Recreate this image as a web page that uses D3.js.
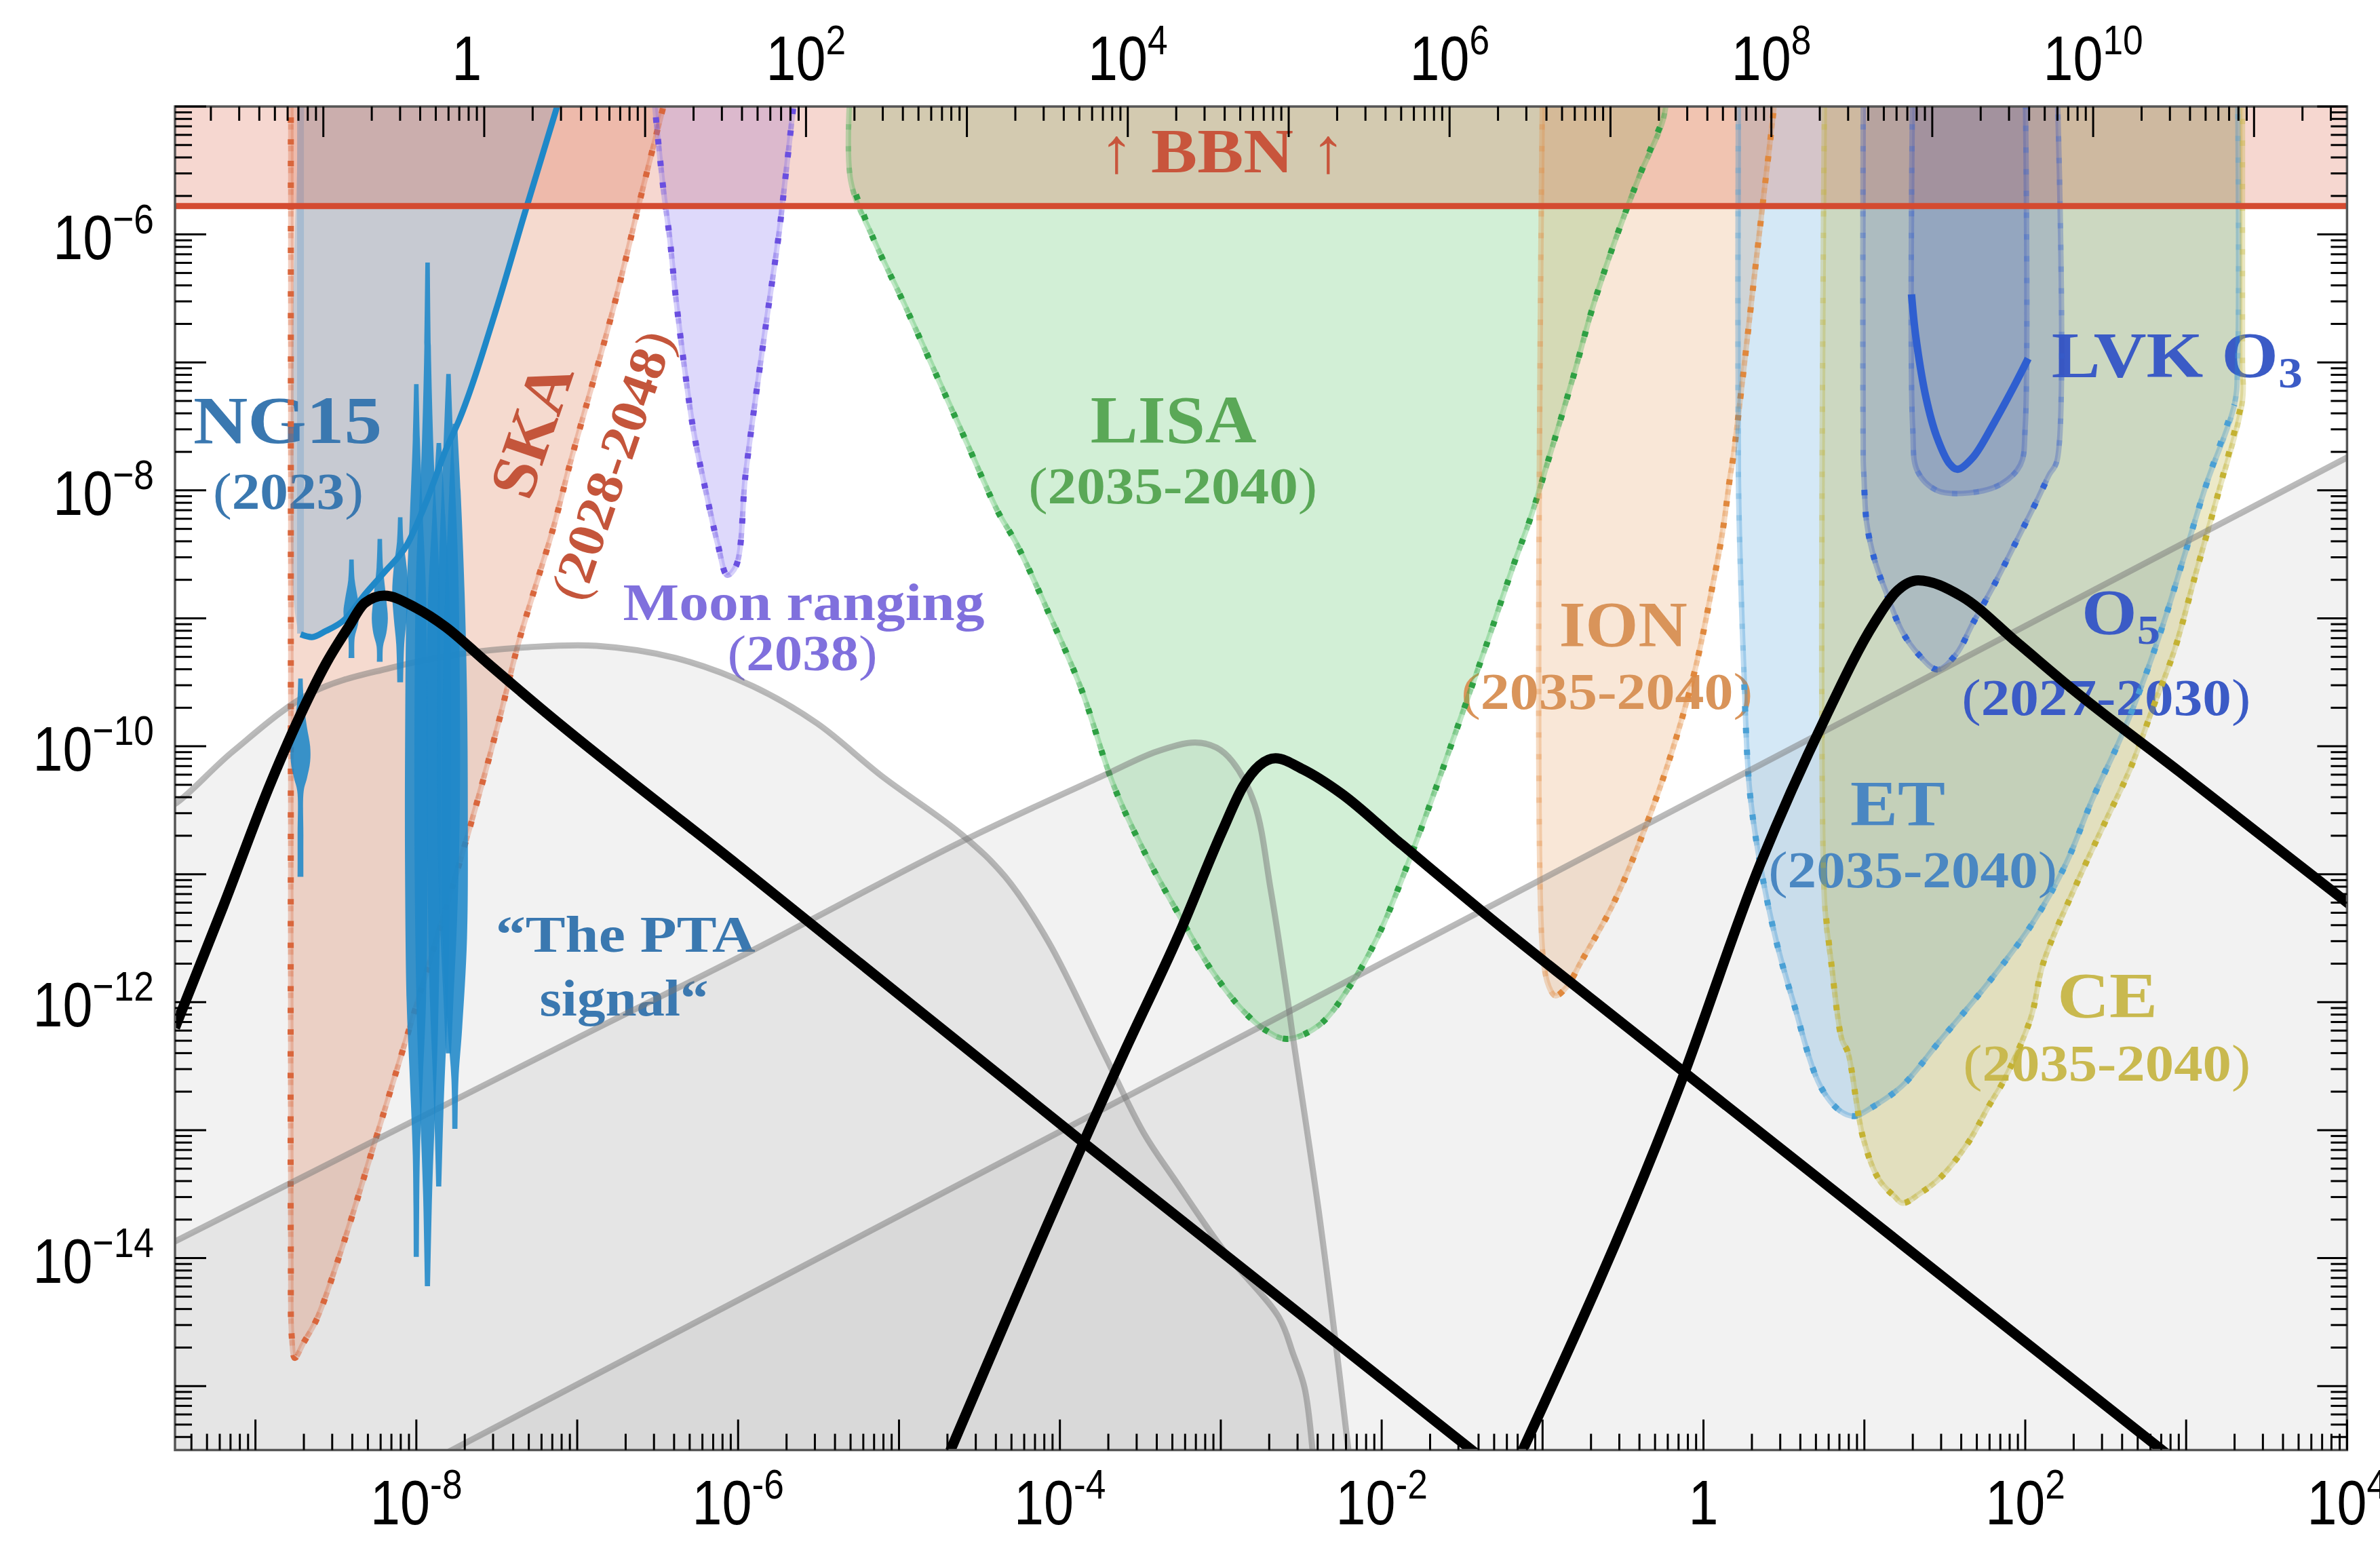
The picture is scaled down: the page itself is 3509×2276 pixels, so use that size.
<!DOCTYPE html>
<html><head><meta charset="utf-8">
<script src="https://cdn.jsdelivr.net/npm/d3@7"></script>
<style>body{margin:0;background:#fff}</style>
</head><body>
<svg id="c" width="3509" height="2276" xmlns="http://www.w3.org/2000/svg"></svg>
<script>
// ---------------- DATA (log10 f [Hz], log10 Omega h^2) ----------------
const xTickExps = [-8, -6, -4, -2, 0, 2, 4];
const topTickExps = [0, 2, 4, 6, 8, 10];
const yTickExps = [-14, -12, -10, -8, -6];
const topAxisShift = 7.578;            // log10(top quantity) - log10(f)
const bbnLevel = -5.778;

// black signal curves
const signal1 = [[-9.5,-12.2],[-9.2,-11.25],[-8.9,-10.27],[-8.7,-9.70],[-8.56,-9.35],[-8.42,-9.065],[-8.32,-8.88],[-8.2,-8.823],[-8.0,-8.92],[-7.82,-9.065],[-7.58,-9.325],[-7.23,-9.70],[-6.0,-10.93],[-3.87,-13.08],[-1.4,-15.54]];
const signal2 = [[-4.72,-15.62],[-3.6,-12.39],[-3.26,-11.47],[-2.99,-10.66],[-2.86,-10.31],[-2.76,-10.15],[-2.66,-10.094],[-2.49,-10.18],[-2.25,-10.37],[-1.92,-10.72],[-1.25,-11.42],[-0.68,-11.99],[2.88,-15.53]];
const signal3 = [[-1.16,-15.6],[-0.15,-12.66],[0.35,-10.93],[0.76,-9.77],[1.06,-9.04],[1.2,-8.79],[1.335,-8.703],[1.6,-8.825],[1.95,-9.19],[2.28,-9.54],[2.96,-10.2],[4.05,-11.27]];

// grey background regions (upper boundaries)
const fgLine = [[-7.9,-15.58],[4.05,-7.71]];
const ptaHump = [[-9.6,-10.5],[-9.5,-10.45],[-9.14,-10.04],[-8.65,-9.58],[-8.17,-9.39],[-7.68,-9.27],[-7.3,-9.225],[-6.88,-9.215],[-6.39,-9.31],[-5.91,-9.53],[-5.51,-9.82],[-5.11,-10.23],[-4.61,-10.69],[-4.34,-11.02],[-4.07,-11.53],[-3.73,-12.39],[-3.48,-13.02],[-3.29,-13.38],[-2.97,-13.96],[-2.64,-14.46],[-2.55,-14.75],[-2.48,-15.01],[-2.43,-15.5],[-2.42,-15.7]];
const bumpLine = [[-9.6,-13.93],[-9.5,-13.87],[-7.0,-12.28],[-5.95,-11.62],[-4.61,-10.744],[-3.733,-10.23],[-3.397,-10.04],[-3.16,-9.97],[-3.027,-10.01],[-2.927,-10.12],[-2.79,-10.45],[-2.69,-11.12],[-2.59,-11.93],[-2.56,-12.2],[-2.384,-13.7],[-2.207,-15.5],[-2.19,-15.7]];

// experiment sensitivity regions (boundary from top-left, down, back to top-right)
const ska = [[-8.78,-4.8],[-8.78,-10],[-8.78,-14.0],[-8.775,-14.6],[-8.755,-14.78],[-8.70,-14.66],[-8.62,-14.48],[-8.48,-13.99],[-8.255,-13.08],[-8.03,-12.15],[-7.68,-10.69],[-7.49,-9.82],[-7.36,-9.17],[-7.15,-8.3],[-7.04,-7.77],[-6.78,-6.6],[-6.59,-5.63],[-6.46,-4.98],[-6.42,-4.8]];
const moon = [[-6.53,-4.8],[-6.519,-4.98],[-6.463,-5.663],[-6.425,-6.03],[-6.388,-6.485],[-6.331,-7.064],[-6.275,-7.55],[-6.2,-8.01],[-6.124,-8.434],[-6.068,-8.663],[-6.012,-8.588],[-5.955,-7.89],[-5.898,-7.34],[-5.823,-6.668],[-5.747,-6.0],[-5.71,-5.60],[-5.653,-4.96],[-5.64,-4.8]];
const lisa = [[-5.30,-4.8],[-5.30,-5.58],[-5.159,-6.034],[-4.965,-6.55],[-4.771,-7.09],[-4.578,-7.63],[-4.384,-8.17],[-4.27,-8.416],[-4.07,-8.958],[-3.867,-9.553],[-3.665,-10.31],[-3.464,-10.853],[-3.262,-11.313],[-3.06,-11.745],[-2.859,-12.07],[-2.72,-12.22],[-2.59,-12.287],[-2.389,-12.18],[-2.187,-11.854],[-2.019,-11.475],[-1.85,-10.96],[-1.682,-10.393],[-1.514,-9.797],[-1.347,-9.2],[-1.179,-8.578],[-1.078,-8.227],[-0.965,-7.767],[-0.804,-7.09],[-0.69,-6.576],[-0.55,-6.05],[-0.40,-5.55],[-0.25,-5.1],[-0.22,-4.8]];
const ion = [[-1.0,-4.8],[-1.0,-11.6],[-0.96,-11.88],[-0.92,-11.95],[-0.85,-11.88],[-0.763,-11.69],[-0.56,-11.23],[-0.357,-10.62],[-0.188,-10.01],[-0.052,-9.40],[0.049,-8.794],[0.117,-8.337],[0.167,-7.88],[0.182,-7.767],[0.247,-7.09],[0.311,-6.385],[0.376,-5.68],[0.44,-4.98],[0.45,-4.8]];
const et = [[0.217,-4.8],[0.217,-7.88],[0.234,-8.794],[0.251,-9.40],[0.285,-10.316],[0.353,-10.926],[0.455,-11.536],[0.557,-11.992],[0.726,-12.655],[0.85,-12.85],[0.94,-12.89],[1.05,-12.82],[1.234,-12.655],[1.471,-12.3],[1.776,-11.84],[2.047,-11.38],[2.25,-10.926],[2.419,-10.41],[2.588,-9.95],[2.724,-9.525],[2.859,-9.04],[2.994,-8.49],[3.129,-7.94],[3.30,-7.33],[3.32,-7.0],[3.32,-4.8]];
const ce = [[0.753,-4.8],[0.753,-11.23],[0.794,-11.69],[0.861,-12.295],[0.897,-12.39],[0.994,-13.07],[1.09,-13.385],[1.189,-13.52],[1.238,-13.57],[1.351,-13.49],[1.481,-13.36],[1.644,-13.1],[1.774,-12.81],[1.872,-12.6],[2.034,-12.125],[2.113,-11.69],[2.317,-11.08],[2.486,-10.62],[2.656,-10.165],[2.791,-9.708],[2.927,-9.25],[3.062,-8.64],[3.198,-8.03],[3.35,-7.3],[3.35,-7.0],[3.35,-4.8]];
const o5 = [[0.993,-4.8],[0.993,-7.77],[0.997,-7.88],[1.014,-8.25],[1.065,-8.55],[1.133,-8.79],[1.234,-9.1],[1.335,-9.28],[1.454,-9.40],[1.571,-9.28],[1.674,-9.04],[1.81,-8.73],[1.944,-8.40],[2.08,-8.06],[2.148,-7.88],[2.197,-7.77],[2.197,-4.8]];
const o3band = [[1.30,-4.8],[1.30,-7.5],[1.33,-7.85],[1.45,-8.0],[1.65,-8.02],[1.85,-7.95],[1.97,-7.8],[2.0,-7.5],[2.0,-4.8]];
const o3curve = [[1.293,-6.468],[1.32,-6.8],[1.384,-7.28],[1.449,-7.577],[1.531,-7.794],[1.58,-7.835],[1.676,-7.74],[1.807,-7.47],[1.937,-7.17],[2.018,-6.97]];
const ng15Region = [[-8.72,-4.8],[-8.72,-9.125],[-8.649,-9.147],[-8.564,-9.10],[-8.452,-9.017],[-8.311,-8.80],[-8.199,-8.64],[-8.058,-8.425],[-7.932,-8.07],[-7.819,-7.69],[-7.735,-7.454],[-7.496,-6.555],[-7.329,-5.845],[-7.12,-4.98],[-7.07,-4.8]];
const ng15Line = [[-8.719,-9.125],[-8.649,-9.147],[-8.564,-9.10],[-8.452,-9.017],[-8.311,-8.80],[-8.199,-8.64],[-8.058,-8.425],[-7.932,-8.07],[-7.819,-7.69],[-7.735,-7.454],[-7.496,-6.555],[-7.329,-5.845],[-7.12,-4.98],[-7.07,-4.78]];
// NG15 violins: centre log f, then [log Omega, half-width in decades]
const violinCentres = [-8.72, -8.403, -8.227, -8.10, -8.0, -7.93, -7.86, -7.80, -7.76];
const violinShapes = [
  [[-9.47,0.014],[-9.65,0.02],[-9.85,0.04],[-10.0,0.06],[-10.12,0.06],[-10.25,0.04],[-10.35,0.02],[-10.7,0.018],[-11.02,0.018]],
  [[-8.54,0.014],[-8.7,0.02],[-8.85,0.04],[-8.95,0.05],[-9.05,0.04],[-9.15,0.02],[-9.31,0.018]],
  [[-8.38,0.014],[-8.6,0.02],[-8.85,0.04],[-9.0,0.05],[-9.12,0.04],[-9.22,0.02],[-9.34,0.018]],
  [[-8.21,0.014],[-8.4,0.02],[-8.6,0.04],[-8.8,0.05],[-9.0,0.04],[-9.2,0.025],[-9.5,0.018]],
  [[-7.17,0.014],[-7.6,0.022],[-8.2,0.04],[-8.8,0.06],[-10,0.07],[-11,0.07],[-12,0.06],[-12.6,0.04],[-13.2,0.022],[-13.99,0.016]],
  [[-6.22,0.014],[-7.0,0.022],[-7.8,0.04],[-8.6,0.07],[-9.5,0.08],[-11,0.08],[-12.2,0.065],[-12.9,0.045],[-13.5,0.028],[-14.22,0.016]],
  [[-7.63,0.014],[-8.2,0.04],[-9,0.07],[-11,0.07],[-12,0.055],[-12.8,0.03],[-13.44,0.016]],
  [[-7.09,0.014],[-7.8,0.035],[-8.6,0.06],[-9.5,0.07],[-10.5,0.07],[-11.3,0.055],[-12,0.03],[-12.4,0.016]],
  [[-7.48,0.014],[-8.0,0.035],[-8.8,0.06],[-9.6,0.075],[-10.5,0.08],[-11.5,0.075],[-12.2,0.045],[-12.6,0.022],[-12.99,0.016]]
];

// ---------------- SCALES ----------------
const PL = 258, PR = 3460.4, PT = 157, PB = 2137.5;
const x = d3.scaleLog().domain([Math.pow(10,-9.5), 1e4]).range([PL, PR]);
const y = d3.scaleLog().domain([Math.pow(10,-15.5), 1e-5]).range([PB, PT]);
const xTop = d3.scaleLog().domain([Math.pow(10,-9.5+topAxisShift), Math.pow(10,4+topAxisShift)]).range([PL, PR]);
const X = v => x(Math.pow(10, v)), Y = v => y(Math.pow(10, v));

const svg = d3.select('#c');
svg.append('rect').attr('width',3509).attr('height',2276).attr('fill','#fff');
svg.append('defs').append('clipPath').attr('id','clip').append('rect')
  .attr('x',PL).attr('y',PT).attr('width',PR-PL).attr('height',PB-PT);
const plot = svg.append('g').attr('clip-path','url(#clip)');

const smooth = d3.line().x(d=>X(d[0])).y(d=>Y(d[1])).curve(d3.curveCatmullRom.alpha(0.5));
const mono = d3.line().x(d=>X(d[0])).y(d=>Y(d[1])).curve(d3.curveMonotoneX);
const straight = d3.line().x(d=>X(d[0])).y(d=>Y(d[1]));

// ---------------- GREY REGIONS ----------------
const greyFill = 'rgba(0,0,0,0.052)';
plot.append('path').attr('d', straight(fgLine.concat([[4.1,-15.7],[-7.9,-15.7]])) + 'Z').attr('fill',greyFill);
plot.append('path').attr('d', smooth(ptaHump) + 'L' + X(-9.6) + ',' + Y(-15.7) + 'Z').attr('fill',greyFill);
plot.append('path').attr('d', smooth(bumpLine) + 'L' + X(-9.6) + ',' + Y(-15.7) + 'Z').attr('fill',greyFill);

// ---------------- EXPERIMENT FILLS ----------------
// strong: index range of the boundary drawn with strong dots (rest faint)
const regions = [
  {pts: ska,  fill:'rgb(215,100,55)',  op:0.24, dot:'#d9663c', strong:[0, ska.length-1]},
  {pts: moon, fill:'rgb(123,104,238)', op:0.25, dot:'#6a4fe0', strong:[0, moon.length-1]},
  {pts: lisa, fill:'rgb(50,180,70)',   op:0.22, dot:'#2ea043', strong:[1, lisa.length-2]},
  {pts: ion,  fill:'rgb(225,135,55)',  op:0.2,  dot:'#e0883d', strong:[2, ion.length-1]},
  {pts: et,   fill:'rgb(40,140,210)',  op:0.2,  dot:'#4aa0d5', strong:[3, et.length-3]},
  {pts: ce,   fill:'rgb(185,175,50)',  op:0.27, dot:'#c4b233', strong:[1, ce.length-3]},
  {pts: o5,   fill:'rgb(50,80,190)',   op:0.2,  dot:'#3163d4', strong:[2, o5.length-3]},
  {pts: o3band, fill:'rgb(50,80,190)', op:0.2,  dot:'#3163d4', strong:null}
];
regions.forEach(r => {
  plot.append('path').attr('d', smooth(r.pts) + 'Z').attr('fill', r.fill).attr('fill-opacity', r.op);
});
// NG15 excluded region
plot.append('path').attr('d', smooth(ng15Region) + 'Z').attr('fill','#89b6d6').attr('fill-opacity',0.42);
plot.append('path').attr('d', straight([[-8.72,-4.8],[-8.72,-9.12]])).attr('stroke','#9fb6cf').attr('stroke-width',10).attr('fill','none').attr('stroke-opacity',0.8);

// BBN band
plot.append('rect').attr('x',PL).attr('y',PT-10).attr('width',PR-PL).attr('height',Y(bbnLevel)-PT+10)
  .attr('fill','rgb(215,80,50)').attr('fill-opacity',0.23);

// ---------------- ANNOTATIONS ----------------
const serif = '"Liberation Serif","DejaVu Serif",serif';
const annotations = [
  {lf:-8.80, lo:-7.631, size:100, color:'#3a78b0', len:278, parts:[{t:'NG15'}]},
  {lf:-8.796, lo:-8.146, size:76, color:'#3a78b0', len:222, parts:[{t:'(',w:'normal'},{t:'2023'},{t:')',w:'normal'}]},
  {lf:-7.283, lo:-7.531, size:96, color:'#c4553b', len:202, rot:-71, parts:[{t:'SKA'}]},
  {lf:-6.782, lo:-7.803, size:76, color:'#c4553b', len:414, rot:-71, parts:[{t:'(',w:'normal'},{t:'2028-2048'},{t:')',w:'normal'}]},
  {lf:-5.592, lo:-9.011, size:78, color:'#8070dd', len:533, parts:[{t:'Moon ranging'}]},
  {lf:-5.6, lo:-9.408, size:74, color:'#8070dd', len:221, parts:[{t:'(',w:'normal'},{t:'2038'},{t:')',w:'normal'}]},
  {lf:-3.294, lo:-7.626, size:100, color:'#5aa857', len:245, parts:[{t:'LISA'}]},
  {lf:-3.298, lo:-8.103, size:76, color:'#5aa857', len:426, parts:[{t:'(',w:'normal'},{t:'2035-2040'},{t:')',w:'normal'}]},
  {lf:-0.499, lo:-9.221, size:95, color:'#d9945a', len:189, parts:[{t:'ION'}]},
  {lf:-0.6, lo:-9.706, size:76, color:'#d9945a', len:430, parts:[{t:'(',w:'normal'},{t:'2035-2040'},{t:')',w:'normal'}]},
  {lf:1.208, lo:-10.621, size:95, color:'#4a87c2', len:140, parts:[{t:'ET'}]},
  {lf:1.301, lo:-11.101, size:76, color:'#4a87c2', len:426, parts:[{t:'(',w:'normal'},{t:'2035-2040'},{t:')',w:'normal'}]},
  {lf:2.595, lo:-9.127, size:95, color:'#3b5bc6', len:116, parts:[{t:'O'},{t:'5',fs:62,dy:14}]},
  {lf:2.503, lo:-9.753, size:76, color:'#3b5bc6', len:426, parts:[{t:'(',w:'normal'},{t:'2027-2030'},{t:')',w:'normal'}]},
  {lf:2.164, lo:-7.117, size:96, color:'#3b5bc6', anchor:'start', len:370, parts:[{t:'LVK O'},{t:'3',fs:64,dy:15}]},
  {lf:2.511, lo:-12.119, size:95, color:'#c9b94f', len:148, parts:[{t:'CE'}]},
  {lf:2.507, lo:-12.611, size:76, color:'#c9b94f', len:424, parts:[{t:'(',w:'normal'},{t:'2035-2040'},{t:')',w:'normal'}]},
  {lf:-6.7, lo:-11.605, size:76, color:'#3a78b0', len:383, parts:[{t:'\u201CThe PTA'}]},
  {lf:-6.709, lo:-12.103, size:76, color:'#3a78b0', len:249, parts:[{t:'signal\u201C'}]},
  {lf:-2.991, lo:-5.512, size:94, color:'#c8553c', len:363, parts:[{t:'\u2191 ',w:'normal'},{t:'BBN'},{t:' \u2191',w:'normal'}]}
];
const annG = svg.append('g');
annotations.forEach(a => {
  let t;
  if (a.rot !== undefined) {
    t = annG.append('text').attr('transform', `translate(${X(a.lf)},${Y(a.lo)}) rotate(${a.rot})`)
      .attr('x',0).attr('y', a.size*0.33);
  } else {
    t = annG.append('text').attr('x', X(a.lf)).attr('y', Y(a.lo));
  }
  t.attr('text-anchor', a.anchor || 'middle').attr('font-family', serif).attr('font-size', a.size)
   .attr('font-weight','bold').attr('fill', a.color);
  a.parts.forEach(p => {
    const s = t.append('tspan').text(p.t);
    if (p.w) s.attr('font-weight', p.w);
    if (p.fs) s.attr('font-size', p.fs);
    if (p.dy) s.attr('dy', p.dy);
  });
  if (a.len) t.attr('textLength', a.len).attr('lengthAdjust','spacingAndGlyphs');
});

// ---------------- EDGES ----------------
const edgeG = svg.append('g').attr('clip-path','url(#clip)');
regions.forEach(r => {
  edgeG.append('path').attr('d', smooth(r.pts)).attr('fill','none').attr('stroke', r.fill)
    .attr('stroke-opacity',0.3).attr('stroke-width',8);
  edgeG.append('path').attr('d', smooth(r.pts)).attr('fill','none').attr('stroke', r.dot)
    .attr('stroke-opacity',0.3).attr('stroke-width',8).attr('stroke-dasharray','8 24');
  if (r.strong) {
    const sub = r.pts.slice(r.strong[0], r.strong[1] + 1);
    edgeG.append('path').attr('d', smooth(sub)).attr('fill','none').attr('stroke', r.dot)
      .attr('stroke-width',9).attr('stroke-dasharray','8 24').attr('stroke-dashoffset',10);
  }
});
// grey boundary lines
[[fgLine, straight],[ptaHump, smooth],[bumpLine, smooth]].forEach(([pts, gen]) => {
  edgeG.append('path').attr('d', gen(pts)).attr('fill','none').attr('stroke','rgb(120,120,120)')
    .attr('stroke-opacity',0.5).attr('stroke-width',9);
});

// NG15 violins and PL curve
const violin = (c) => d3.area().y(d=>Y(d[0])).x0(d=>X(c-d[1])).x1(d=>X(c+d[1])).curve(d3.curveCatmullRom);
violinShapes.forEach((shape, i) => {
  edgeG.append('path').attr('d', violin(violinCentres[i])(shape)).attr('fill','#1f88c8').attr('fill-opacity',0.88);
});
edgeG.append('path').attr('d', mono(ng15Line)).attr('fill','none').attr('stroke','#1f88c8').attr('stroke-width',9);
// LVK O3 curve
edgeG.append('path').attr('d', smooth(o3curve)).attr('fill','none').attr('stroke','#2f5fd0').attr('stroke-width',11);

// black signals
[signal1, signal2, signal3].forEach(s => {
  edgeG.append('path').attr('d', mono(s)).attr('fill','none').attr('stroke','#000')
    .attr('stroke-width',15).attr('stroke-linejoin','round');
});
// BBN line
edgeG.append('line').attr('x1',PL).attr('x2',PR).attr('y1',Y(bbnLevel)).attr('y2',Y(bbnLevel))
  .attr('stroke','#d44b31').attr('stroke-width',9);

// ---------------- AXES ----------------
const axG = svg.append('g');
axG.append('rect').attr('x',PL).attr('y',PT).attr('width',PR-PL).attr('height',PB-PT)
  .attr('fill','none').attr('stroke','#555').attr('stroke-width',3.5);
const tick = (x1,y1,x2,y2) => axG.append('line').attr('x1',x1).attr('y1',y1).attr('x2',x2).attr('y2',y2)
  .attr('stroke','#000').attr('stroke-width',3);
const inRange = (v, lo, hi) => v >= lo - 1e-9 && v <= hi + 1e-9;
for (let e = -11; e <= 13; e++) {
  for (let k = 1; k <= 9; k++) {
    const lv = e + Math.log10(k);
    if (inRange(lv, -9.5, 4)) { const px = X(lv); tick(px, PB, px, PB - (k===1?45:24)); }
    if (inRange(lv, -9.5 + topAxisShift, 4 + topAxisShift)) { const px = xTop(Math.pow(10, lv)); tick(px, PT, px, PT + (k===1?45:21)); }
  }
}
for (let e = -16; e <= -5; e++) {
  for (let k = 1; k <= 9; k++) {
    const lv = e + Math.log10(k);
    if (!inRange(lv, -15.5, -5)) continue;
    const py = Y(lv);
    tick(PL, py, PL + (k===1?46:25), py);
    tick(PR, py, PR - (k===1?44:24), py);
  }
}
const sans = '"Liberation Sans",Arial,Helvetica,sans-serif';
function powLabel(px, py, anchor, exp, minus) {
  const g = axG.append('g').attr('transform', `translate(${px},${py}) scale(0.86,1)`);
  const t = g.append('text').attr('x', 0).attr('y', 0).attr('text-anchor', anchor)
    .attr('font-family', sans).attr('font-size', 92).attr('fill','#000');
  if (exp === 0) { t.text('1'); return t; }
  t.append('tspan').text('10');
  t.append('tspan').attr('dy', -38).attr('font-size', 62).text(exp < 0 ? minus + Math.abs(exp) : String(exp));
  return t;
}
yTickExps.forEach(e => powLabel(227, Y(e) + 36, 'end', e, '\u2212'));
xTickExps.forEach(e => powLabel(X(e), 2247, 'middle', e, '-'));
topTickExps.forEach(e => {
  const t = powLabel(xTop(Math.pow(10, e)), 118, 'middle', e, '-');
  if (e === 0) t.attr('dx', -30);
});
</script>
</body></html>
